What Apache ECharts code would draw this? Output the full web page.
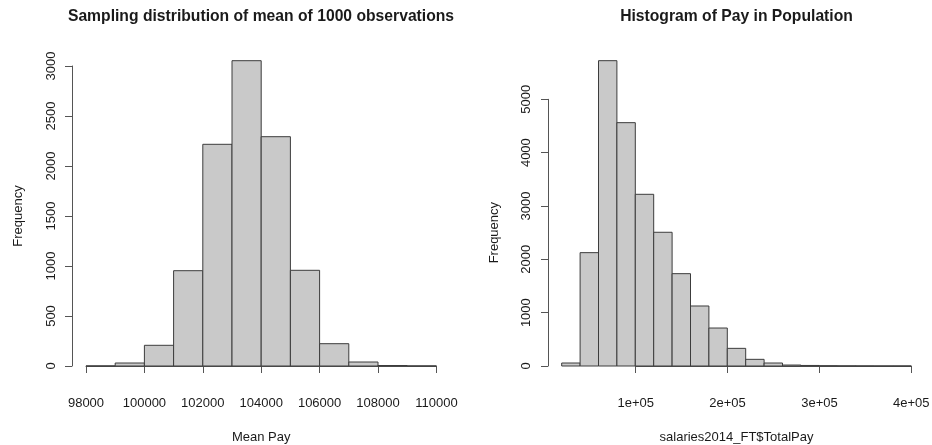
<!DOCTYPE html>
<html>
<head>
<meta charset="utf-8">
<script src="https://cdn.jsdelivr.net/npm/echarts@6/dist/echarts.min.js"></script>
<style>
  html, body { margin: 0; padding: 0; background: #ffffff; }
  #chart { width: 932px; height: 445px; }
</style>
</head>
<body>
<div id="chart"></div>
<script>
// Histogram of sample means (1000 observations each)
const meanBreaks = [98000, 99000, 100000, 101000, 102000, 103000, 104000, 105000, 106000, 107000, 108000, 109000, 110000];
const meanCounts = [1, 30, 207, 953, 2217, 3053, 2293, 957, 223, 40, 5, 1];
const meanTicks = [98000, 100000, 102000, 104000, 106000, 108000, 110000];
const meanFreqTicks = [0, 500, 1000, 1500, 2000, 2500, 3000];

// Histogram of total pay in the population
const payBreaks = [20000, 40000, 60000, 80000, 100000, 120000, 140000, 160000, 180000, 200000,
  220000, 240000, 260000, 280000, 300000, 320000, 340000, 360000, 380000, 400000];
const payCounts = [56, 2125, 5724, 4562, 3219, 2507, 1731, 1125, 712, 331, 125, 56, 18, 10, 5, 3, 2, 1, 1];
const payTicks = [100000, 200000, 300000, 400000];
const payFreqTicks = [0, 1000, 2000, 3000, 4000, 5000];

const FONT = '"Liberation Sans", Arial, Helvetica, sans-serif';
const TEXT = '#1a1a1a';
const AXIS = '#555555';
const BAR_FILL = '#c9c9c9';
const BAR_EDGE = '#3c3c3c';

function binData(breaks, counts) {
  return counts.map((c, i) => [breaks[i], breaks[i + 1], c]);
}

function renderBin(params, api) {
  const p0 = api.coord([api.value(0), 0]);
  const p1 = api.coord([api.value(1), api.value(2)]);
  return {
    type: 'rect',
    shape: { x: p0[0], y: p1[1], width: p1[0] - p0[0], height: p0[1] - p1[1] },
    style: { fill: BAR_FILL, stroke: BAR_EDGE, lineWidth: 1 }
  };
}

const plain = v => String(v);

function visibleAxis(extra) {
  return Object.assign({
    type: 'value',
    axisLine: { show: true, lineStyle: { color: AXIS, width: 1 } },
    axisTick: { show: true, length: 7, lineStyle: { color: AXIS, width: 1 } },
    axisLabel: { color: TEXT, fontSize: 13, fontFamily: FONT, formatter: plain },
    splitLine: { show: false },
    nameLocation: 'middle',
    nameTextStyle: { color: TEXT, fontSize: 13, fontFamily: FONT }
  }, extra);
}

function fromList(list) {
  return { min: list[0], max: list[list.length - 1], interval: list[1] - list[0] };
}

const chart = echarts.init(document.getElementById('chart'), null, { renderer: 'canvas' });

const gridBase = { containLabel: false, outerBoundsMode: 'none' };

chart.setOption({
  animation: false,
  backgroundColor: '#ffffff',
  graphic: [
    { type: 'text', x: 261, y: 17,
      style: { text: 'Sampling distribution of mean of 1000 observations', fill: TEXT,
               font: 'bold 15.7px ' + FONT, textAlign: 'center', textVerticalAlign: 'middle' } },
    { type: 'text', x: 736.5, y: 17,
      style: { text: 'Histogram of Pay in Population', fill: TEXT,
               font: 'bold 15.7px ' + FONT, textAlign: 'center', textVerticalAlign: 'middle' } }
  ],
  grid: [
    Object.assign({ left: 86, top: 66, width: 350.4, height: 300 }, gridBase),
    Object.assign({ left: 561.7, top: 99.3, width: 349.6, height: 266.7 }, gridBase),
    Object.assign({ left: 635.7, top: 99.3, width: 275.6, height: 266.7 }, gridBase)
  ],
  xAxis: [
    visibleAxis(Object.assign({ gridIndex: 0, offset: 13, name: 'Mean Pay', nameGap: 52,
      axisLabel: { color: TEXT, fontSize: 13, fontFamily: FONT, margin: 18, formatter: plain } }, fromList(meanTicks))),
    visibleAxis({ gridIndex: 1, min: payBreaks[0], max: payBreaks[payBreaks.length - 1], offset: 13,
      name: 'salaries2014_FT$TotalPay', nameGap: 52,
      axisLine: { show: false }, axisTick: { show: false }, axisLabel: { show: false } }),
    visibleAxis(Object.assign({ gridIndex: 2, offset: 13,
      axisLabel: { color: TEXT, fontSize: 13, fontFamily: FONT, margin: 18,
                   formatter: v => (v / 100000) + 'e+05' } }, fromList(payTicks)))
  ],
  yAxis: [
    visibleAxis(Object.assign({ gridIndex: 0, offset: 14, name: 'Frequency', nameGap: 47,
      axisLabel: { color: TEXT, fontSize: 13, fontFamily: FONT, rotate: 90, margin: 14, formatter: plain } }, fromList(meanFreqTicks))),
    visibleAxis(Object.assign({ gridIndex: 1, offset: 13.7, name: 'Frequency', nameGap: 47,
      axisLabel: { color: TEXT, fontSize: 13, fontFamily: FONT, rotate: 90, margin: 15, formatter: plain } }, fromList(payFreqTicks))),
    Object.assign({ type: 'value', gridIndex: 2, show: false }, fromList(payFreqTicks))
  ],
  series: [
    { type: 'custom', xAxisIndex: 0, yAxisIndex: 0, clip: false, renderItem: renderBin,
      encode: { x: [0, 1], y: 2 }, data: binData(meanBreaks, meanCounts) },
    { type: 'custom', xAxisIndex: 1, yAxisIndex: 1, clip: false, renderItem: renderBin,
      encode: { x: [0, 1], y: 2 }, data: binData(payBreaks, payCounts) }
  ]
});
</script>
</body>
</html>
